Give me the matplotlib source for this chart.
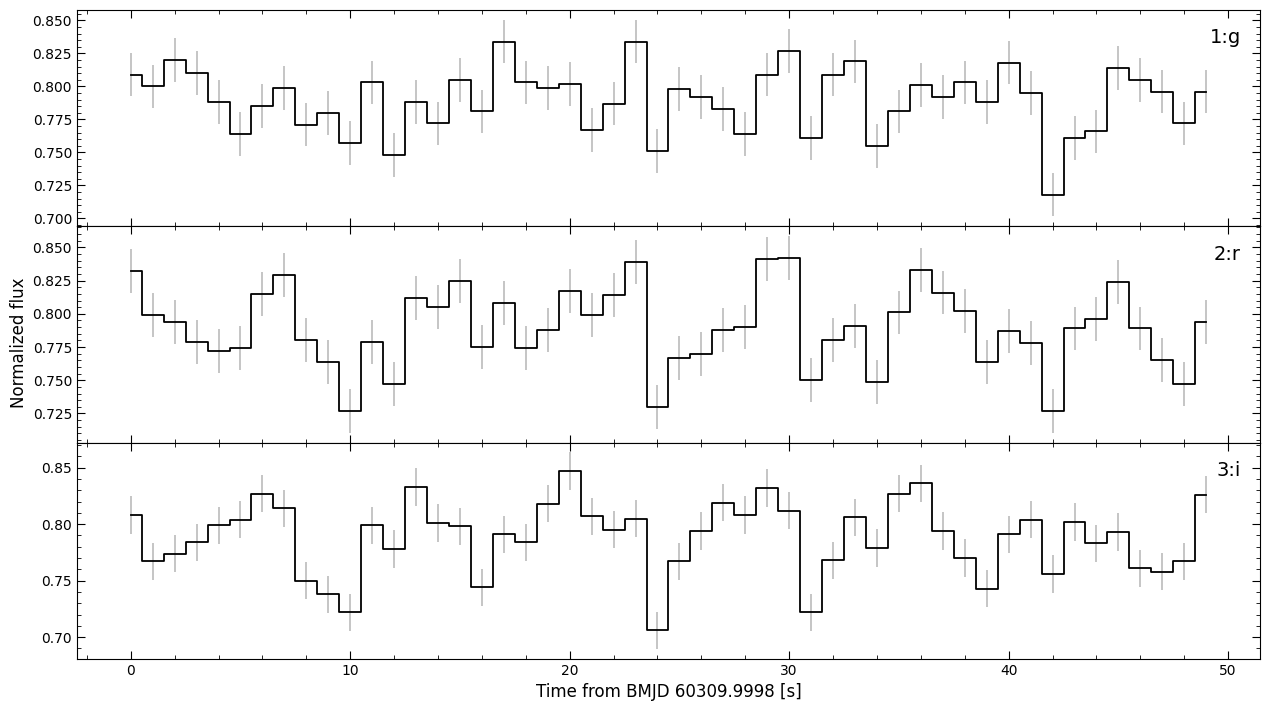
import numpy as np
import matplotlib
matplotlib.use('Agg')
import matplotlib.pyplot as plt

# tiempo en segundos desde BMJD 60309.9998
t = np.arange(50)

# flujo normalizado por filtro
flux_g = [0.809, 0.800, 0.820, 0.810, 0.788, 0.764, 0.785, 0.799, 0.771, 0.780,
          0.757, 0.803, 0.748, 0.788, 0.772, 0.805, 0.781, 0.834, 0.803, 0.799,
          0.802, 0.767, 0.787, 0.834, 0.751, 0.798, 0.792, 0.783, 0.764, 0.809,
          0.827, 0.761, 0.809, 0.819, 0.755, 0.781, 0.801, 0.792, 0.803, 0.788,
          0.818, 0.795, 0.718, 0.761, 0.766, 0.814, 0.805, 0.796, 0.772, 0.796]
flux_r = [0.832, 0.799, 0.794, 0.779, 0.772, 0.774, 0.815, 0.829, 0.780, 0.764,
          0.727, 0.779, 0.747, 0.812, 0.805, 0.825, 0.775, 0.808, 0.774, 0.788,
          0.817, 0.799, 0.814, 0.839, 0.730, 0.767, 0.770, 0.788, 0.790, 0.841,
          0.842, 0.750, 0.780, 0.791, 0.749, 0.801, 0.833, 0.816, 0.802, 0.764,
          0.787, 0.778, 0.727, 0.789, 0.796, 0.824, 0.789, 0.765, 0.747, 0.794]
flux_i = [0.808, 0.767, 0.774, 0.784, 0.799, 0.804, 0.827, 0.814, 0.750, 0.738,
          0.722, 0.799, 0.778, 0.833, 0.801, 0.798, 0.744, 0.791, 0.784, 0.818,
          0.847, 0.807, 0.795, 0.805, 0.706, 0.767, 0.794, 0.819, 0.808, 0.832,
          0.812, 0.722, 0.768, 0.806, 0.779, 0.827, 0.836, 0.794, 0.770, 0.743,
          0.791, 0.804, 0.756, 0.802, 0.783, 0.793, 0.761, 0.758, 0.767, 0.826]

# error aproximado (igual para todos los puntos)
err_g = 0.0165
err_r = 0.0165
err_i = 0.0165

flujos = [flux_g, flux_r, flux_i]
errores = [err_g, err_r, err_i]
etiquetas = ['1:g', '2:r', '3:i']

fig, axes = plt.subplots(3, 1, sharex=True, figsize=(12.7, 7.1), dpi=100)
fig.subplots_adjust(left=0.0606, right=0.9921, top=0.986, bottom=0.072, hspace=0)

for ax, f, e, lab in zip(axes, flujos, errores, etiquetas):
    ax.errorbar(t, f, yerr=e, fmt='none', ecolor='#bbbbbb', elinewidth=1.2)
    ax.step(t, f, where='mid', color='black', lw=1.3)
    ax.text(0.984, 0.915, lab, transform=ax.transAxes, ha='right', va='top', fontsize=14)
    ax.minorticks_on()
    ax.tick_params(which='both', direction='in', top=True, right=True)
    ax.tick_params(which='major', length=6)
    ax.tick_params(which='minor', length=3)

fig.supylabel('Normalized flux', fontsize=12, x=0.008, y=0.517)
axes[-1].set_xlabel('Time from BMJD 60309.9998 [s]', fontsize=12)

plt.savefig('out.png', dpi=100)
